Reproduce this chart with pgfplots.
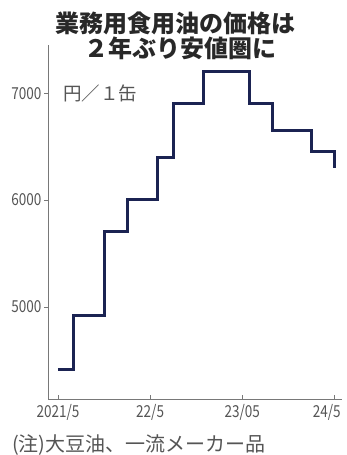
\documentclass[border=0pt]{standalone}
\usepackage{pgfplots}
\pgfplotsset{compat=1.18}
\usepackage{fontspec}
\setmainfont{Noto Sans CJK JP}
\newfontfamily\tickfont{Noto Sans CJK JP}[FakeStretch=0.82]
\definecolor{navy}{RGB}{27,35,82}
\definecolor{txt}{RGB}{40,40,40}
\definecolor{tick}{RGB}{85,85,85}
\definecolor{axisgray}{RGB}{120,120,120}
\begin{document}
\begin{tikzpicture}[x=1pt,y=1pt]
\path[use as bounding box] (0,0) rectangle (346,455);
\begin{axis}[
  at={(48pt,56pt)}, anchor=south west,
  scale only axis, width=294pt, height=354pt,
  xmin=-1.3, xmax=37, ymin=4140, ymax=7450,
  axis x line*=bottom, axis y line*=left,
  axis line style={axisgray, line width=0.8pt},
  xtick={0,12,24,36},
  xticklabels={2021/5,22/5,23/05,\hspace*{-15pt}24/5},
  ytick={5000,6000,7000},
  yticklabels={5000,6000,7000},
  x tick style={axisgray, line width=0.6pt},
  y tick style={axisgray, line width=0.6pt},
  xtick align=inside, ytick align=outside,
  major tick length=4pt,
  tick label style={font=\tickfont\fontsize{16.5}{18}\selectfont, text=tick},
  /pgf/number format/assume math mode=true,
  xticklabel style={yshift=-2pt},
  yticklabel style={xshift=1pt},
  clip=false,
]
\addplot[const plot, navy, line width=3pt, line join=miter] coordinates {
  (0,4420) (2,4920) (6,5710) (9,6010) (13,6400) (15,6900)
  (19,7200) (25,6900) (28,6650) (33,6450) (36,6300)
};
\end{axis}
\node[text=txt, font=\bfseries\fontsize{24}{26}\selectfont, inner sep=0pt] at (175,455-23) {業務用食用油の価格は};
\node[text=txt, font=\bfseries\fontsize{24}{26}\selectfont, inner sep=0pt] at (180,455-48) {２年ぶり安値圏に};
\node[text=tick, font=\fontsize{18.5}{20}\selectfont, anchor=west, inner sep=0pt] at (63,455-93) {円／１缶};
\node[text=tick, font=\fontsize{20}{22}\selectfont, anchor=west, inner sep=0pt] at (12,455-445) {(注)大豆油、一流メーカー品};
\end{tikzpicture}
\end{document}
